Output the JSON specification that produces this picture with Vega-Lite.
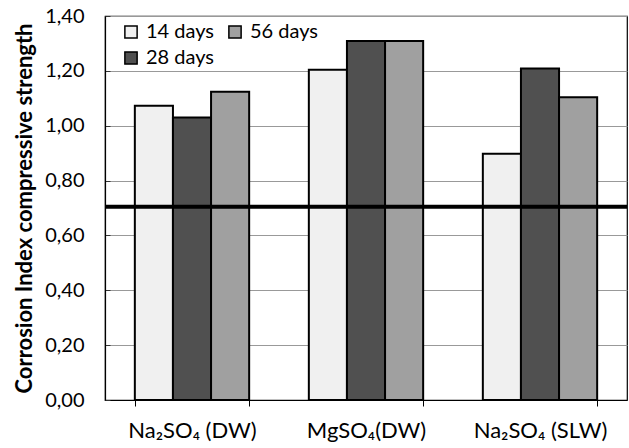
{
  "$schema": "https://vega.github.io/schema/vega-lite/v6.json",
  "width": 522,
  "height": 384,
  "autosize": {"type": "none"},
  "padding": {"left": 105, "top": 16, "right": 2, "bottom": 48},
  "background": "white",
  "config": {
    "font": "Lato",
    "view": {"stroke": "black", "strokeWidth": 1.2}
  },
  "layer": [
    {
      "data": {
        "values": [
          {"solution": "Na₂SO₄ (DW)", "age": "14 days", "ci": 1.073},
          {"solution": "Na₂SO₄ (DW)", "age": "28 days", "ci": 1.03},
          {"solution": "Na₂SO₄ (DW)", "age": "56 days", "ci": 1.124},
          {"solution": "MgSO₄(DW)", "age": "14 days", "ci": 1.204},
          {"solution": "MgSO₄(DW)", "age": "28 days", "ci": 1.309},
          {"solution": "MgSO₄(DW)", "age": "56 days", "ci": 1.309},
          {"solution": "Na₂SO₄ (SLW)", "age": "14 days", "ci": 0.898},
          {"solution": "Na₂SO₄ (SLW)", "age": "28 days", "ci": 1.209},
          {"solution": "Na₂SO₄ (SLW)", "age": "56 days", "ci": 1.104}
        ]
      },
      "mark": {"type": "bar", "stroke": "black", "strokeWidth": 2},
      "encoding": {
        "x": {
          "field": "solution",
          "type": "nominal",
          "sort": null,
          "scale": {"paddingInner": 0.343, "paddingOuter": 0.1715},
          "axis": {
            "title": null,
            "labelAngle": 0,
            "labelFontSize": 22,
            "labelColor": "black",
            "labelPadding": 14,
            "tickBand": "extent",
            "tickSize": 6,
            "tickColor": "black",
            "domainColor": "black",
            "domainWidth": 1.2
          }
        },
        "xOffset": {
          "field": "age",
          "type": "nominal",
          "sort": ["14 days", "28 days", "56 days"],
          "scale": {"paddingInner": 0, "paddingOuter": 0}
        },
        "y": {
          "field": "ci",
          "type": "quantitative",
          "scale": {"domain": [0, 1.4], "nice": false},
          "axis": {
            "title": "Corrosion Index compressive strength",
            "titleFontSize": 22,
            "titleFontWeight": "bold",
            "titleColor": "black",
            "titlePadding": 8,
            "values": [0, 0.05, 0.1, 0.15, 0.2, 0.25, 0.3, 0.35, 0.4, 0.45, 0.5, 0.55, 0.6, 0.65, 0.7, 0.75, 0.8, 0.85, 0.9, 0.95, 1.0, 1.05, 1.1, 1.15, 1.2, 1.25, 1.3, 1.35, 1.4],
            "labelExpr": "abs(datum.value*5 - round(datum.value*5)) < 0.001 ? replace(format(datum.value, '.2f'), '.', ',') : ''",
            "labelOverlap": false,
            "labelFlush": false,
            "labelFontSize": 20,
            "labelColor": "black",
            "labelPadding": 26,
            "tickSize": -5,
            "tickWidth": 1,
            "tickColor": "#333",
            "grid": true,
            "gridColor": "#999",
            "gridWidth": 1.2,
            "gridOpacity": {"condition": {"test": "abs(datum.value*5 - round(datum.value*5)) < 0.001", "value": 1}, "value": 0},
            "domainColor": "black",
            "domainWidth": 1.2
          }
        },
        "color": {
          "field": "age",
          "type": "nominal",
          "scale": {
            "domain": ["14 days", "28 days", "56 days"],
            "range": ["#f0f0f0", "#505050", "#a0a0a0"]
          },
          "legend": {
            "title": null,
            "values": ["14 days", "28 days", "56 days"],
            "orient": "none",
            "legendX": 16,
            "legendY": 6,
            "columns": 2,
            "columnPadding": 10,
            "rowPadding": 6,
            "symbolType": "square",
            "symbolSize": 150,
            "symbolStrokeColor": "black",
            "symbolStrokeWidth": 1.5,
            "symbolOpacity": 1,
            "labelFontSize": 20,
            "labelColor": "black",
            "labelOffset": 5
          }
        }
      }
    },
    {
      "data": {"values": [{"threshold": 0.705}]},
      "mark": {"type": "rule", "color": "black", "strokeWidth": 4},
      "encoding": {
        "y": {"field": "threshold", "type": "quantitative"}
      }
    }
  ]
}
